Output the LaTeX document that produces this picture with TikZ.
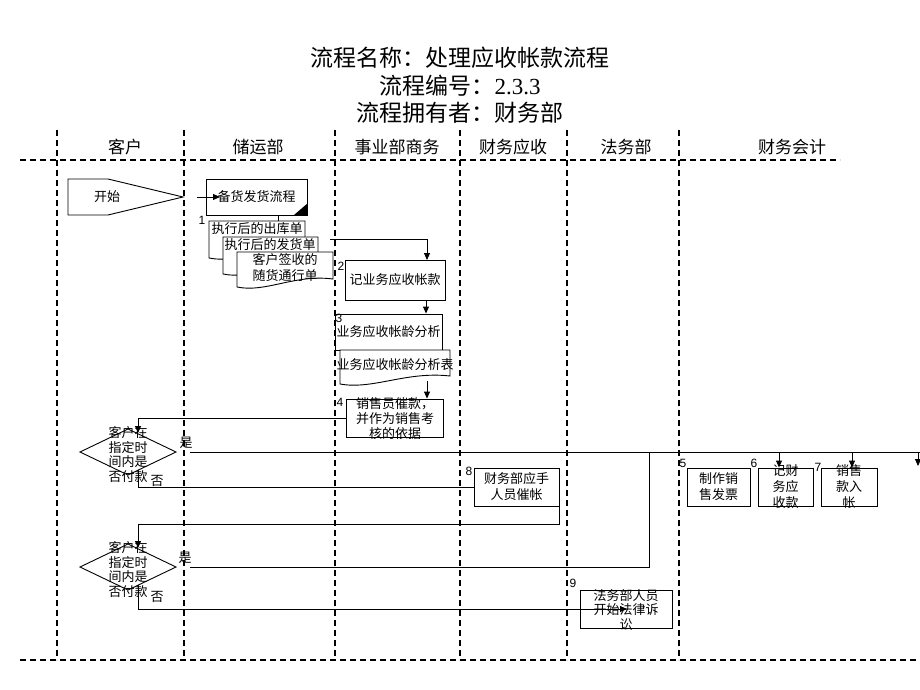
\documentclass[tikz,border=0pt]{standalone}
\usepackage{fontspec}
\setmainfont{Liberation Serif}
\newfontfamily\cjk{Noto Sans CJK SC}
\newfontfamily\numf{Liberation Sans}
\usetikzlibrary{arrows.meta}
\newcommand{\docpath}[4]{\draw[conn,fill=white] (#1,#2) -- (#3,#2) -- (#3,{#4-8}) .. controls ({#1+0.6*(#3-#1)},{#4-13}) and ({#1+0.3*(#3-#1)},{#4+6}) .. (#1,#4) -- cycle;}
\begin{document}
\begin{tikzpicture}[x=1pt,y=-1pt,
 lane/.style={line width=1.2pt, dash pattern=on 6pt off 4pt},
 box/.style={draw, line width=0.9pt, fill=white, inner sep=0pt},
 conn/.style={line width=0.9pt},
 arr/.style={conn, -{Triangle[length=7pt,width=6pt]}},
 txt/.style={font=\cjk\fontsize{13}{16}\selectfont, align=center, inner sep=0pt},
 txtb/.style={font=\cjk\fontsize{13}{14.6}\selectfont, align=center, inner sep=0pt},
 hdr/.style={font=\cjk\fontsize{17}{20}\selectfont, inner sep=0pt},
 ttl/.style={font=\cjk\fontsize{23}{26}\selectfont, inner sep=0pt},
 num/.style={font=\numf\fontsize{12}{12}\selectfont, inner sep=0pt},
]
\useasboundingbox (0,0) rectangle (920,690);
% titles
\node[ttl] (t1) at (460,58) {流程名称：处理应收帐款流程};
\node[ttl] (t2) at (460,86) {流程编号：{\rmfamily\fontsize{23}{26}\selectfont 2.3.3}};
\node[ttl] (t3) at (460,113) {流程拥有者：财务部};
% lanes
\foreach \x in {57,184,335,460,567,679} \draw[lane] (\x,130) -- (\x,660);
\draw[lane] (20,160) -- (840,160);
\draw[lane] (20,660) -- (920,660);
\node[hdr] (h1) at (125,147) {客户};
\node[hdr] (h2) at (258,147) {储运部};
\node[hdr] (h3) at (397,147) {事业部商务};
\node[hdr] (h4) at (513,147) {财务应收};
\node[hdr] (h5) at (626,147) {法务部};
\node[hdr] (h6) at (792,147) {财务会计};
% start
\draw[conn,fill=white] (68,179) -- (108,179) -- (183,197) -- (108,215) -- (68,215) -- cycle;
\node[txt] (start) at (107,197) {开始};
% b0
\node[box, minimum width=101pt, minimum height=36pt] (b0) at (256.5,197) {};
\fill (b0.south east) -- ++(-14,0) -- ++(14,-12) -- cycle;
\node[txt] (t0) at (b0) {备货发货流程};
\coordinate (a0) at (197,197);
\coordinate (a0e) at (220,197);
\draw[arr] (a0) -- (a0e);
\coordinate (d1t) at (278,221);
\draw[conn] (d1t |- b0.south) -- (d1t);
% documents
\docpath{209}{221}{305}{258}
\node[txt] (td1) at (257,229) {执行后的出库单};
\docpath{223}{237}{318}{274}
\node[txt] (td2) at (270,245) {执行后的发货单};
\docpath{237}{252}{333}{287}
\node[txt] (td3) at (285,268) {客户签收的\\随货通行单};
\node[num] (n1) at (202,220) {1};
% b2
\node[box, minimum width=100pt, minimum height=40pt] (b2) at (395,280) {};
\node[txt] (tb2) at (b2) {记业务应收帐款};
\node[num] (n2) at (341,266) {2};
\coordinate (d2r) at (330,239);
\coordinate (b2in) at (427,260);
\draw[arr] (d2r) -| (b2in);
% b3
\node[box, minimum width=107pt, minimum height=36pt] (b3) at (388.5,332) {};
\node[txt] (tb3) at (b3) {业务应收帐龄分析};
\node[num] (n3) at (339,318) {3};
\coordinate (c23) at (426,300);
\draw[arr] (c23) -- (c23 |- b3.north);
\docpath{340}{350}{450}{384}
\node[txt] (td4) at (395,365) {业务应收帐龄分析表};
% b4
\node[box, minimum width=97pt, minimum height=38pt] (b4) at (394.5,418) {};
\node[txtb] (tb4) at (395,418.5) {销售员催款，\\并作为销售考\\核的依据};
\node[num] (n4) at (340,402) {4};
\coordinate (c34) at (427,381);
\draw[arr] (c34) -- (c34 |- b4.north);
% diamond 1
\draw[conn] (80,452) -- (128,429) -- (176,452) -- (128,475) -- cycle;
\node[txtb] (dt1) at (128,454.5) {客户在\\指定时\\间内是\\否付款};
\coordinate (k1) at (138,433);
\draw[arr] (b4.west) -| (k1);
\node[txt] (yes1) at (186,443) {是};
\node[txt] (no1) at (157,481) {否};
% boxes 5,6,7,8
\node[box, minimum width=85pt, minimum height=38pt] (b8) at (516.5,487) {};
\node[txt] (tb8) at (b8) {财务部应手\\人员催帐};
\node[num] (n8) at (469,471) {8};
\node[box, minimum width=63pt, minimum height=38pt] (b5) at (718.5,487) {};
\node[txt] (tb5) at (b5) {制作销\\售发票};
\node[num] (n5) at (683,463) {5};
\node[box, minimum width=55pt, minimum height=38pt] (b6) at (785.5,487) {};
\node[txt] (tb6) at (b6) {记财\\务应\\收款};
\node[num] (n6) at (754,463) {6};
\node[box, minimum width=56pt, minimum height=38pt] (b7) at (849,487) {};
\node[txt] (tb7) at (b7) {销售\\款入\\帐};
\node[num] (n7) at (818,467) {7};
% yes line 1
\coordinate (y1s) at (190,452);
\coordinate (y1e) at (920,452);
\draw[conn] (y1s) -- (y1e);
\coordinate (j6) at (779,452);
\draw[arr] (j6) -- (j6 |- b6.north);
\coordinate (j7) at (852,452);
\draw[arr] (j7) -- (j7 |- b7.north);
\coordinate (j8) at (918,452);
\coordinate (j8e) at (918,466);
\draw[arr] (j8) -- (j8e);
% no line 1
\coordinate (m1) at (138,470);
\draw[conn] (m1) |- (b8.west);
% loop from b8 to diamond 2
\coordinate (k2) at (138,548);
\draw[arr] (b8.south east) -- ++(0,18) -| (k2);
% diamond 2
\draw[conn] (80,567) -- (128,544) -- (176,567) -- (128,590) -- cycle;
\node[txtb] (dt2) at (128,569.5) {客户在\\指定时\\间内是\\否付款};
\node[txt] (yes2) at (185,558) {是};
\node[txt] (no2) at (157,597) {否};
\coordinate (y2s) at (190,567);
\coordinate (j2) at (649,452);
\draw[conn] (y2s) -| (j2);
% b9
\node[box, minimum width=92pt, minimum height=38pt] (b9) at (626,609) {};
\node[txtb] (tb9) at (626,610) {法务部人员\\开始法律诉\\讼};
\node[num] (n9) at (573,583) {9};
\coordinate (m2) at (138,585);
\coordinate (m2e) at (627,609);
\draw[arr] (m2) |- (m2e);
\end{tikzpicture}
\end{document}
